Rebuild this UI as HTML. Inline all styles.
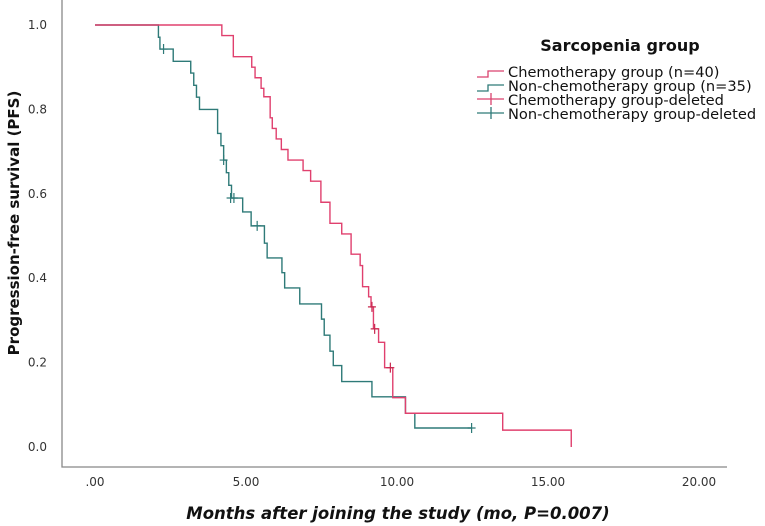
<!DOCTYPE html>
<html><head><meta charset="utf-8"><style>
body{margin:0;background:#fff;}
svg{display:block;font-family:"DejaVu Sans","Liberation Sans",sans-serif;}
</style></head><body>
<svg id="chart" width="765" height="526" viewBox="0 0 765 526">
<g id="axes"></g>
<g id="curves"></g>
<text x="398" y="519" text-anchor="middle" font-size="16.5" font-weight="bold" font-style="italic" fill="#111">Months after joining the study (mo, P=0.007)</text>
<text transform="translate(19,223) rotate(-90)" text-anchor="middle" font-size="15" font-weight="bold" fill="#111">Progression-free survival (PFS)</text>
<g>
<text x="620" y="51" text-anchor="middle" font-size="16" font-weight="bold" fill="#111">Sarcopenia group</text>
<g><path d="M477 77H488V71H504" fill="none" stroke="#d9426e" stroke-width="1.3"/><text x="508" y="77" font-size="14.6" fill="#111">Chemotherapy group (n=40)</text></g>
<g><path d="M477 91H488V85H504" fill="none" stroke="#2e7a78" stroke-width="1.3"/><text x="508" y="91" font-size="14.6" fill="#111">Non-chemotherapy group (n=35)</text></g>
<g><path d="M477 99H504M491 93V105" fill="none" stroke="#d9426e" stroke-width="1.3"/><text x="508" y="105" font-size="14.6" fill="#111">Chemotherapy group-deleted</text></g>
<g><path d="M477 113H504M491 107V119" fill="none" stroke="#2e7a78" stroke-width="1.3"/><text x="508" y="119" font-size="14.6" fill="#111">Non-chemotherapy group-deleted</text></g>
</g>
</svg>
<script>
const xTicks=[0,5,10,15,20];
const xTickLabels=[".00","5.00","10.00","15.00","20.00"];
const yTicks=[0,0.2,0.4,0.6,0.8,1.0];
const yTickLabels=["0.0","0.2","0.4","0.6","0.8","1.0"];
const chemoTimes=[0,4.2,4.58,5.19,5.3,5.5,5.59,5.8,5.87,6.0,6.17,6.39,6.89,7.14,7.48,7.78,8.17,8.48,8.78,8.86,9.06,9.14,9.22,9.39,9.59,9.86,10.28,13.5,15.77];
const chemoSurv=[1,0.975,0.925,0.9,0.875,0.85,0.83,0.78,0.755,0.73,0.705,0.68,0.655,0.63,0.58,0.53,0.505,0.457,0.43,0.38,0.356,0.332,0.28,0.248,0.188,0.117,0.08,0.04,0];
const chemoCensorT=[9.17,9.26,9.78];
const chemoCensorS=[0.332,0.28,0.188];
const nonTimes=[0,2.1,2.15,2.59,3.17,3.27,3.36,3.46,4.06,4.17,4.26,4.35,4.43,4.52,4.89,5.17,5.61,5.7,6.19,6.28,6.78,7.5,7.59,7.78,7.89,8.17,9.17,10.28,10.59];
const nonSurv=[1,0.971,0.943,0.914,0.886,0.857,0.829,0.8,0.743,0.714,0.68,0.65,0.62,0.59,0.557,0.524,0.483,0.448,0.413,0.377,0.339,0.303,0.265,0.227,0.193,0.155,0.119,0.08,0.045];
const nonEnd=12.47;
const nonCensorT=[2.27,4.26,4.49,4.6,5.37,12.47];
const nonCensorS=[0.943,0.68,0.59,0.59,0.524,0.045];
const NS="http://www.w3.org/2000/svg";
const X=t=>95+30.2*t, Y=s=>447-422*s;
function mk(tag,attrs,parent){const e=document.createElementNS(NS,tag);for(const k in attrs)e.setAttribute(k,attrs[k]);parent.appendChild(e);return e;}
const axes=document.getElementById('axes'),curves=document.getElementById('curves');
let a=mk('path',{d:'M62 0V467H727',fill:'none',stroke:'#888','stroke-width':1.3},axes);


xTicks.forEach((t,i)=>{const e=mk('text',{x:X(t),y:486,'text-anchor':'middle','font-size':12,fill:'#333'},axes);e.textContent=xTickLabels[i];

});
yTicks.forEach((s,i)=>{const e=mk('text',{x:47,y:Y(s)+4,'text-anchor':'end','font-size':12,fill:'#333'},axes);e.textContent=yTickLabels[i];

});
function stepPath(T,S,end){let d='M'+X(T[0])+' '+Y(S[0]);for(let i=1;i<T.length;i++){d+='H'+X(T[i])+'V'+Y(S[i]);}if(end!==undefined)d+='H'+X(end);return d;}
let p1=mk('path',{d:stepPath(nonTimes,nonSurv,nonEnd),fill:'none',stroke:'#2e7a78','stroke-width':1.4},curves);


let p2=mk('path',{d:stepPath(chemoTimes,chemoSurv),fill:'none',stroke:'#e0406e','stroke-width':1.4},curves);


function censor(T,S,col,name){T.forEach((t,i)=>{const x=X(t),y=Y(S[i]);const c=mk('path',{d:`M${x-4} ${y}H${x+4}M${x} ${y-5}V${y+5}`,stroke:col,'stroke-width':1.2,fill:'none'},curves);

});}
censor(nonCensorT,nonCensorS,'#2e7a78','nonchemo-censor-mark');
censor(chemoCensorT,chemoCensorS,'#c8284f','chemo-censor-mark');
</script>
</body></html>
